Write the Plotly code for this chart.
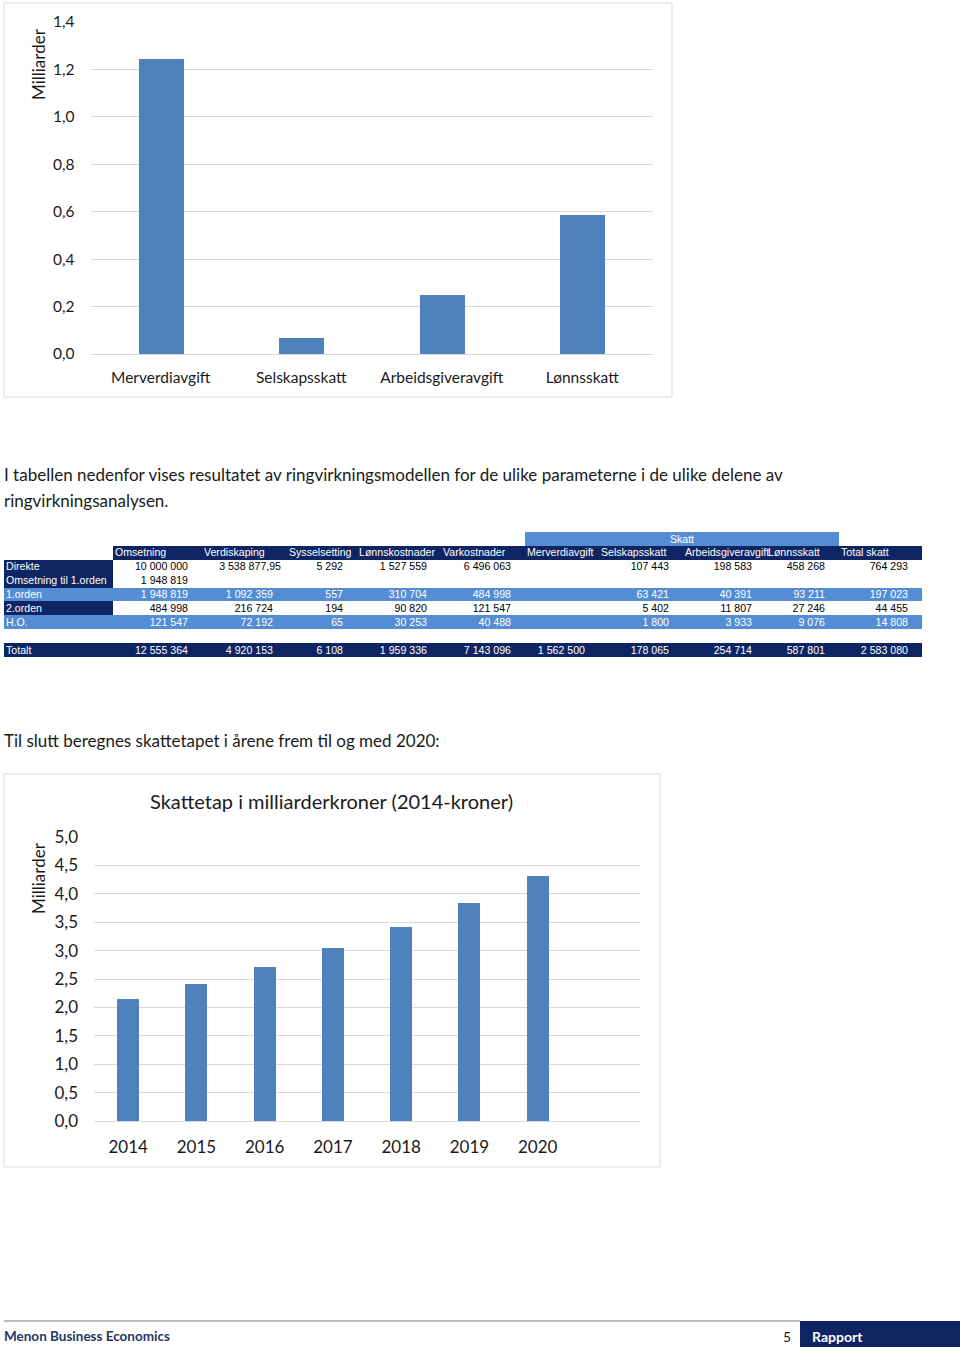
import plotly.graph_objects as go

W, H = 960, 1352

# ---------------- data ----------------
tax_categories = ["Merverdiavgift", "Selskapsskatt", "Arbeidsgiveravgift", "Lønnsskatt"]
tax_values = [1.245, 0.068, 0.25, 0.586]

years = [2014, 2015, 2016, 2017, 2018, 2019, 2020]
tax_loss = [2.15, 2.41, 2.71, 3.05, 3.42, 3.84, 4.31]

row_labels = ["Direkte", "Omsetning til 1.orden", "1.orden", "2.orden", "H.O.", "", "Totalt"]
table_headers = ["Omsetning", "Verdiskaping", "Sysselsetting", "Lønnskostnader", "Varkostnader",
                 "Merverdiavgift", "Selskapsskatt", "Arbeidsgiveravgift", "Lønnsskatt", "Total skatt"]
skatt_group = "Skatt"
skatt_members = ["Merverdiavgift", "Selskapsskatt", "Arbeidsgiveravgift", "Lønnsskatt"]
omsetning = [10000000, 1948819, 1948819, 484998, 121547, None, 12555364]
verdiskaping = [3538877.95, None, 1092359, 216724, 72192, None, 4920153]
sysselsetting = [5292, None, 557, 194, 65, None, 6108]
lonnskostnader = [1527559, None, 310704, 90820, 30253, None, 1959336]
varkostnader = [6496063, None, 484998, 121547, 40488, None, 7143096]
merverdiavgift = [None, None, None, None, None, None, 1562500]
selskapsskatt = [107443, None, 63421, 5402, 1800, None, 178065]
arbeidsgiveravgift = [198583, None, 40391, 11807, 3933, None, 254714]
lonnsskatt = [458268, None, 93211, 27246, 9076, None, 587801]
total_skatt = [764293, None, 197023, 44455, 14808, None, 2583080]
row_style = ["plain", "plain", "blue", "plain", "blue", "empty", "total"]

# ---------------- helpers ----------------
def px(x):
    return x / W


def py(y):
    return 1 - y / H


def fmt(v):
    if v is None:
        return ""
    if isinstance(v, float) and v != int(v):
        return f"{v:,.2f}".replace(",", " ").replace(".", ",")
    return f"{int(v):,}".replace(",", " ")


NAVY = "#0f2563"
BLUE = "#4f81bd"
TBLUE = "#548dd4"
GRID = "#d9d9d9"
CAL = "Lato, Carlito, Calibri, sans-serif"
ARIAL = "Liberation Sans, Arial, sans-serif"
TXT = "#1a1a1a"

fig = go.Figure()

# ---------------- chart 1 ----------------
fig.add_trace(go.Bar(x=tax_categories, y=tax_values, marker=dict(color=BLUE, line=dict(width=0)),
                     width=0.32, xaxis="x", yaxis="y", showlegend=False, hoverinfo="x+y"))

# ---------------- chart 2 ----------------
fig.add_trace(go.Bar(x=years, y=tax_loss, marker=dict(color=BLUE, line=dict(width=0)),
                     width=0.32, xaxis="x2", yaxis="y2", showlegend=False, hoverinfo="x+y"))

# ---------------- table (heatmap cells + text) ----------------
col_edges = [4, 113, 202, 287, 357, 441, 525, 599, 683, 766, 839, 922]
n_table_rows = 2 + len(row_labels)
row_h = (657 - 532) / n_table_rows
row_edges = [532 + i * row_h for i in range(n_table_rows + 1)]
row_mid = [(row_edges[i] + row_edges[i + 1]) / 2 + 1 for i in range(n_table_rows)]

data_cols = [omsetning, verdiskaping, sysselsetting, lonnskostnader, varkostnader,
             merverdiavgift, selskapsskatt, arbeidsgiveravgift, lonnsskatt, total_skatt]
n_cols = 1 + len(table_headers)

# colour codes: 0 white, 1 blue, 2 navy
z = []
z.append([0] + [1 if h in skatt_members else 0 for h in table_headers])
z.append([0] + [2] * len(table_headers))
for lab, st in zip(row_labels, row_style):
    if st == "blue":
        z.append([1] * n_cols)
    elif st == "total":
        z.append([2] * n_cols)
    elif st == "empty":
        z.append([0] * n_cols)
    else:
        z.append([2] + [0] * len(table_headers))

fig.add_trace(go.Heatmap(x=col_edges, y=row_edges, z=z, zmin=0, zmax=2,
                         colorscale=[[0, "white"], [0.5, TBLUE], [1, NAVY]],
                         showscale=False, hoverinfo="skip", xaxis="x3", yaxis="y3"))

tx, ty, tt, tc, tp = [], [], [], [], []
# Skatt group label
members_idx = [table_headers.index(m) + 1 for m in skatt_members]
tx.append((col_edges[min(members_idx)] + col_edges[max(members_idx) + 1]) / 2)
ty.append(row_mid[0]); tt.append(skatt_group); tc.append("white"); tp.append("middle center")
# header names
for ci, h in enumerate(table_headers, start=1):
    tx.append(col_edges[ci] + 2); ty.append(row_mid[1]); tt.append(h)
    tc.append("white"); tp.append("middle right")
# rows
for ri, lab in enumerate(row_labels):
    r = ri + 2
    if lab:
        tx.append(col_edges[0] + 2); ty.append(row_mid[r]); tt.append(lab)
        tc.append("white"); tp.append("middle right")
    for ci, col in enumerate(data_cols, start=1):
        v = col[ri]
        if v is None:
            continue
        s = fmt(v)
        pad = 6 if "," in s else 14
        tx.append(col_edges[ci + 1] - pad); ty.append(row_mid[r]); tt.append(s)
        tc.append("black" if z[r][ci] == 0 else "white"); tp.append("middle left")

fig.add_trace(go.Scatter(x=tx, y=ty, text=tt, mode="text", textposition=tp,
                         textfont=dict(family=ARIAL, size=10.6, color=tc),
                         xaxis="x3", yaxis="y3", showlegend=False, hoverinfo="skip",
                         cliponaxis=False))

# ---------------- shapes ----------------
shapes = [
    dict(type="rect", xref="paper", yref="paper", x0=px(4), x1=px(672), y0=py(397), y1=py(3),
         line=dict(color=GRID, width=1), fillcolor="rgba(0,0,0,0)", layer="below"),
    dict(type="rect", xref="paper", yref="paper", x0=px(4), x1=px(660), y0=py(1167), y1=py(774),
         line=dict(color=GRID, width=1), fillcolor="rgba(0,0,0,0)", layer="below"),
    dict(type="line", xref="paper", yref="paper", x0=px(4), x1=px(800), y0=py(1321), y1=py(1321),
         line=dict(color="#a6a6a6", width=1.5)),
    dict(type="rect", xref="paper", yref="paper", x0=px(800), x1=px(960), y0=py(1347), y1=py(1321),
         line=dict(width=0), fillcolor=NAVY),
]
# faint cell borders for white cells
for r in range(n_table_rows):
    for c in range(n_cols):
        if z[r][c] == 0:
            shapes.append(dict(type="rect", xref="x3", yref="y3",
                               x0=col_edges[c], x1=col_edges[c + 1],
                               y0=row_edges[r], y1=row_edges[r + 1],
                               line=dict(color="#e4e4e4", width=1), fillcolor="rgba(0,0,0,0)",
                               layer="below"))

# ---------------- annotations ----------------
ann = []


def text(x, y, s, size, color=TXT, family=CAL, xanchor="left", angle=0, bold=False):
    if bold:
        s = "<b>" + s + "</b>"
    ann.append(dict(x=px(x), y=py(y), xref="paper", yref="paper", text=s, showarrow=False,
                    xanchor=xanchor, yanchor="middle", textangle=angle, borderpad=0,
                    font=dict(family=family, size=size, color=color)))


text(38, 64, "Milliarder", 17, xanchor="center", angle=-90)
text(38, 878, "Milliarder", 17, xanchor="center", angle=-90)
text(331.5, 801, "Skattetap i milliarderkroner (2014-kroner)", 20, xanchor="center")
text(3, 474, "I tabellen nedenfor vises resultatet av ringvirkningsmodellen for de ulike parameterne i de ulike delene av", 17)
text(3, 500, "ringvirkningsanalysen.", 17)
text(3, 740, "Til slutt beregnes skattetapet i årene frem til og med 2020:", 17)
text(3, 1336, "Menon Business Economics", 13.5, color="#1f3864", bold=True)
text(792, 1336, "5", 14, xanchor="right")
text(811, 1336, "Rapport", 14, color="white", bold=True)

fig.update_layout(
    width=W, height=H, margin=dict(l=0, r=0, t=0, b=0, pad=0, autoexpand=False),
    paper_bgcolor="white", plot_bgcolor="rgba(0,0,0,0)",
    separators=", ",
    showlegend=False,
    bargap=0,
    shapes=shapes,
    annotations=ann,
    xaxis=dict(domain=[px(90.5), px(652.5)], type="category", range=[-0.5, 3.5], anchor="y",
               showgrid=False, showline=False, zeroline=False, ticks="",
               tickfont=dict(family=CAL, size=15.5, color=TXT), ticklabelstandoff=12),
    yaxis=dict(domain=[py(354), py(22)], range=[0, 1.4], dtick=0.2, tickformat=".1f", anchor="x",
               showgrid=True, gridcolor=GRID, gridwidth=1, zeroline=True, zerolinecolor=GRID,
               zerolinewidth=1, showline=False, ticks="",
               tickfont=dict(family=CAL, size=15.5, color=TXT), ticklabelstandoff=15),
    xaxis2=dict(domain=[px(94), px(640)], range=[2013.5, 2021.5], anchor="y2",
                tickvals=years, ticktext=[str(y) for y in years],
                showgrid=False, showline=False, zeroline=False, ticks="",
                tickfont=dict(family=CAL, size=17, color=TXT), ticklabelstandoff=14),
    yaxis2=dict(domain=[py(1121), py(837)], range=[0, 5], dtick=0.5, tickformat=".1f", anchor="x2",
                showgrid=True, gridcolor=GRID, gridwidth=1, zeroline=True, zerolinecolor=GRID,
                zerolinewidth=1, showline=False, ticks="",
                tickfont=dict(family=CAL, size=17, color=TXT), ticklabelstandoff=15),
    xaxis3=dict(domain=[px(4), px(922)], range=[4, 922], anchor="y3", visible=False,
                showgrid=False, zeroline=False, fixedrange=True),
    yaxis3=dict(domain=[py(657), py(532)], range=[657, 532], anchor="x3", visible=False,
                showgrid=False, zeroline=False, fixedrange=True),
)

fig.write_html("out.html")
